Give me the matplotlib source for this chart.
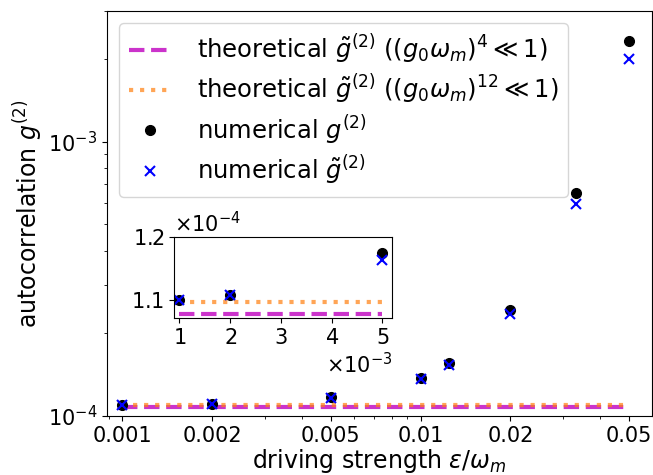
import numpy as np
import matplotlib
matplotlib.use('Agg')
import matplotlib.pyplot as plt
from matplotlib.ticker import NullFormatter

# driving strengths eps/omega_m
eps = [0.001, 0.002, 0.005, 0.01, 0.0125, 0.02, 0.0333, 0.05]
g2_num = [1.100e-4, 1.108e-4, 1.174e-4, 1.379e-4, 1.556e-4, 2.435e-4, 6.48e-4, 2.32e-3]
g2t_num = [1.0995e-4, 1.108e-4, 1.1625e-4, 1.365e-4, 1.534e-4, 2.349e-4, 5.93e-4, 2.0e-3]
g2_theo4 = 1.0784e-4
g2_theo12 = 1.0964e-4

xticks = [0.001, 0.002, 0.005, 0.01, 0.02, 0.05]
xticklabels = ['0.001', '0.002', '0.005', '0.01', '0.02', '0.05']

plt.rcParams['font.size'] = 15
plt.rcParams['mathtext.fontset'] = 'dejavusans'

fig = plt.figure(figsize=(6.53, 4.75), dpi=100)
ax = fig.add_axes([0.164, 0.124, 0.8345, 0.8535])

eps_arr = np.array(eps)
ax.plot(eps_arr, np.full_like(eps_arr, g2_theo4), '--', color='m', alpha=0.8, lw=3,
        label=r'theoretical $\tilde{g}^{(2)}$ $((g_0\omega_m)^4 \ll 1)$')
ax.plot(eps_arr, np.full_like(eps_arr, g2_theo12), ':', color='C1', alpha=0.7, lw=3,
        label=r'theoretical $\tilde{g}^{(2)}$ $((g_0\omega_m)^{12} \ll 1)$')
ax.plot(eps, g2_num, 'o', color='k', ms=7, label=r'numerical $g^{(2)}$')
ax.plot(eps, g2t_num, 'x', color='b', ms=7, mew=1.5, label=r'numerical $\tilde{g}^{(2)}$')

ax.set_xscale('log')
ax.set_yscale('log')
ax.set_xlim(0.00089, 0.0597)
ax.set_ylim(1e-4, 3e-3)
ax.set_xticks(xticks)
ax.set_xticklabels(xticklabels)
ax.xaxis.set_minor_formatter(NullFormatter())
ax.set_xlabel(r'driving strength $\varepsilon/\omega_m$', fontsize=17, labelpad=1)
ax.set_ylabel(r'autocorrelation $g^{(2)}$', fontsize=17, labelpad=2)
ax.legend(loc='upper left', fontsize=17.5, handlelength=1.75, handletextpad=1.05,
          labelspacing=0.28)

# inset for small driving strengths
ins = fig.add_axes([0.267, 0.330, 0.334, 0.172])
eps_in = eps_arr[:3]
ins.plot(eps_in, np.full_like(eps_in, g2_theo4), '--', color='m', alpha=0.8, lw=3)
ins.plot(eps_in, np.full_like(eps_in, g2_theo12), ':', color='C1', alpha=0.7, lw=3)
ins.plot(eps[:3], g2_num[:3], 'o', color='k', ms=7)
ins.plot(eps[:3], g2t_num[:3], 'x', color='b', ms=7, mew=1.5)
ins.set_xlim(0.0009, 0.0052)
ins.set_ylim(1.0712e-4, 1.2e-4)
ins.set_xticks([0.001, 0.002, 0.003, 0.004, 0.005])
ins.set_yticks([1.1e-4, 1.2e-4])
ins.ticklabel_format(style='sci', scilimits=(0, 0), useMathText=True)

fig.savefig('out.png', dpi=100)
